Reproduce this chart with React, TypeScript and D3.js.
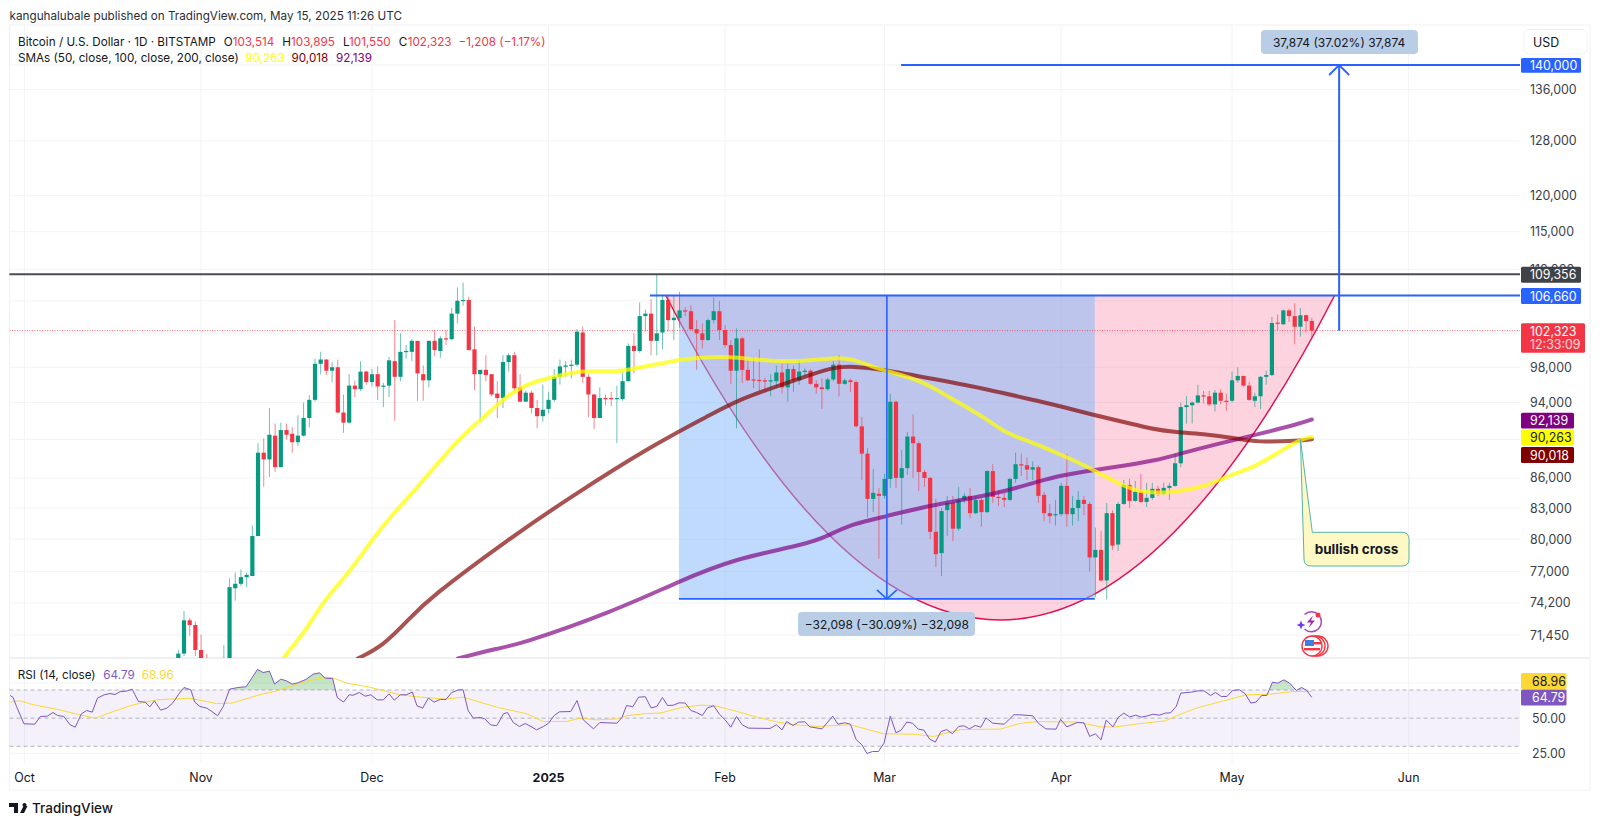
import React from "react";
import * as d3 from "d3";

const FONT = "Inter, 'Noto Sans', sans-serif";

// Daily candles, Oct 28 2024 (day 27 after Oct 1) to May 15 2025 (day 226), USD thousands
const firstDay = 27;
const opens = [
  67.9,69.9,72.7,72.3,70.2,69.5,69.3,68.7,67.8,69.4,75.5,75.9,76.5,76.6,80.3,88.6,87.9,90.4,87.1,91.0,
  90.6,89.7,90.4,92.3,94.3,98.4,98.9,97.6,98.0,92.9,91.8,95.9,95.5,97.5,96.3,97.2,95.8,95.9,98.7,96.9,
  99.8,99.8,101.1,97.2,96.5,101.1,99.9,101.4,101.3,104.4,106.0,106.1,100.1,97.2,97.7,97.2,95.0,94.5,98.6,99.4,
  95.7,94.1,95.1,93.4,92.5,93.3,94.3,96.9,98.05,98.2,98.3,102.1,96.9,94.9,92.3,94.5,94.5,94.4,94.4,96.4,
  100.5,99.9,104.1,104.4,101.1,102.1,106.1,103.6,103.85,104.8,104.7,102.5,102.0,101.2,103.6,104.7,102.4,100.6,97.6,101.4,
  97.7,96.6,96.55,96.5,96.4,96.4,97.4,95.7,97.8,96.5,97.5,97.6,96.1,95.7,95.5,96.6,98.3,96.1,96.5,96.3,
  91.4,88.5,83.9,84.4,84.2,85.9,94.1,86.0,87.0,90.3,89.6,86.6,86.0,80.7,78.7,82.8,83.5,81.0,83.8,84.2,
  82.5,83.8,82.6,86.7,84.1,84.0,83.8,85.9,87.4,87.3,86.85,87.1,84.3,82.5,82.3,82.4,85.2,82.4,83.0,83.8,
  83.4,78.3,79.0,76.2,82.5,79.5,83.4,85.3,83.7,84.6,83.6,84.0,84.9,84.4,85.0,85.2,87.5,93.5,93.7,94.0,
  94.8,94.7,93.8,95.1,94.2,94.2,96.5,97.0,95.9,94.2,94.7,96.9,97.1,103.3,103.1,104.8,104.1,102.8,104.2,103.51,
];
const highs = [
  70.2,73.5,72.9,72.6,71.5,69.9,69.4,69.5,70.6,76.4,76.9,77.2,76.9,81.3,89.6,90.1,93.4,91.7,91.8,91.7,
  91.3,92.6,94.0,94.8,99.0,99.8,98.9,98.6,98.9,94.9,97.2,96.5,98.7,97.6,97.8,98.1,96.2,99.2,103.6,102.0,
  100.6,101.3,101.1,98.2,101.1,102.4,101.7,102.4,105.1,107.7,108.3,106.5,102.8,97.7,99.4,97.2,96.4,99.4,99.6,99.8,
  97.2,95.3,95.3,94.3,96.0,95.2,97.8,98.9,98.7,98.9,102.5,102.8,97.2,94.9,95.7,94.9,95.2,95.9,97.4,100.8,
  102.0,105.8,104.9,106.2,109.3,106.7,106.7,106.6,107.1,105.2,105.4,103.6,103.2,103.8,106.4,106.0,103.0,101.2,102.6,101.6,
  98.9,99.2,100.1,96.8,97.2,98.2,98.4,98.4,98.2,98.9,97.9,97.8,96.5,96.7,96.8,98.7,99.4,96.7,96.7,96.5,
  92.4,89.1,86.9,85.0,86.4,95.0,94.2,88.9,90.8,92.7,89.8,86.8,86.1,83.9,83.0,84.2,84.2,85.1,84.5,85.0,
  84.2,84.0,86.8,87.4,84.8,84.5,86.0,88.6,88.5,88.1,87.7,87.3,84.6,83.4,83.8,85.5,88.5,84.2,84.7,84.2,
  83.6,81.1,80.8,83.5,82.8,83.6,85.8,85.9,85.7,86.4,85.5,85.5,85.2,85.5,85.5,88.5,94.0,94.7,94.1,96.0,
  95.3,95.3,95.4,95.5,95.0,97.5,98.0,97.0,96.3,95.1,97.0,97.6,104.0,104.3,104.9,105.0,105.7,105.1,104.3,103.9,
];
const lows = [
  67.6,69.7,71.4,69.7,68.8,68.9,67.5,66.8,67.5,69.4,74.4,75.7,75.6,76.6,80.3,85.1,86.1,86.6,87.1,90.0,
  88.6,89.3,90.3,91.3,94.1,97.2,97.1,96.3,92.8,90.7,91.7,94.6,95.3,96.0,95.8,94.3,93.5,94.6,92.0,96.4,
  99.0,98.7,94.2,94.2,95.7,99.3,99.1,100.6,101.2,103.2,105.4,100.0,95.4,92.0,96.4,94.7,92.3,93.4,97.5,95.3,
  94.1,94.1,92.8,91.2,91.9,92.8,94.1,96.0,96.9,96.7,98.1,96.2,92.4,91.1,92.3,93.7,93.6,89.6,94.2,96.4,
  97.3,99.7,102.2,99.4,99.4,100.1,102.2,101.2,102.7,104.1,102.4,97.7,100.2,101.1,103.2,101.2,100.3,96.1,91.2,96.2,
  96.4,95.6,95.3,95.3,94.7,95.6,95.0,94.1,95.2,96.0,97.0,96.0,95.0,93.3,95.3,96.4,94.7,96.0,95.2,91.3,
  85.8,82.1,82.6,78.2,83.9,85.0,85.0,81.4,86.3,86.0,84.7,85.1,80.0,77.4,76.6,80.3,79.8,80.8,83.5,82.0,
  82.4,81.2,82.5,83.5,83.2,83.1,83.7,85.5,86.2,85.8,85.8,83.5,81.7,81.5,81.3,82.2,81.2,81.3,81.7,82.3,
  77.0,74.7,76.1,74.5,79.0,78.9,83.3,83.0,83.6,83.5,83.1,83.8,84.2,84.3,83.8,85.1,87.1,91.7,91.7,93.9,
  93.9,93.6,93.0,93.8,93.1,94.0,96.2,95.8,94.2,93.5,93.3,96.0,97.0,102.4,103.0,103.4,100.7,101.6,102.1,101.55,
];
const closes = [
  69.9,72.7,72.3,70.2,69.5,69.3,68.7,67.8,69.4,75.6,75.9,76.5,76.7,80.3,88.6,87.9,90.5,87.1,91.0,90.5,
  89.7,90.4,92.3,94.3,98.4,98.9,97.6,98.0,92.9,91.8,95.9,95.5,97.5,96.3,97.2,95.8,95.9,98.8,96.9,99.8,
  99.9,101.1,97.3,96.5,101.1,100.0,101.4,101.3,104.4,106.0,106.1,100.0,97.2,97.7,97.1,94.9,94.5,98.6,99.4,95.6,
  94.1,95.1,93.4,92.5,93.2,94.3,96.9,98.1,98.2,98.3,102.2,96.9,94.9,92.3,94.5,94.4,94.4,94.5,96.4,100.5,
  99.9,104.1,104.4,101.1,102.0,106.1,103.6,103.9,104.8,104.7,102.5,102.0,101.2,103.6,104.7,102.4,100.6,97.6,101.4,97.7,
  96.5,96.5,96.4,96.4,96.5,97.4,95.7,97.8,96.5,97.5,97.6,96.1,95.7,95.5,96.6,98.3,96.1,96.5,96.3,91.4,
  88.5,83.9,84.5,84.2,85.9,94.1,86.0,87.0,90.3,89.6,86.6,86.0,80.7,78.6,82.7,83.5,81.0,83.8,84.2,82.5,
  83.8,82.6,86.7,84.1,84.0,83.8,85.9,87.4,87.35,86.85,87.1,84.2,82.5,82.2,82.4,85.2,82.4,83.0,83.8,83.4,
  78.3,79.0,76.2,82.5,79.4,83.4,85.3,83.7,84.6,83.6,84.0,84.9,84.4,85.0,85.2,87.5,93.5,93.7,94.0,94.8,
  94.7,93.8,95.1,94.2,94.15,96.5,97.0,95.9,94.3,94.7,96.9,97.1,103.25,103.2,104.8,104.1,102.8,104.2,103.5,102.32,
];

// Moving averages read at sampled days
const sma50Days = [40,46.4,48.9,51.3,53.6,56.6,59.4,62.4,65.3,67.7,76.5,80,83.5,87.6,92.3,98,104,108,113.3,115,122,125.6,131,136.7,142,145.5,150.2,157.2,162,169,172.4,176.5,182.3,186.5,188.8,192.3,195.8,202,207.6,210.4,216.3,219.8,223.9,226];
const sma50Vals = [66,70.2,71.5,73.4,75.0,76.7,78.7,80.9,82.8,84.2,90.3,92.0,94.1,96.0,96.8,97.7,97.4,98.0,98.6,98.9,99.3,99.1,98.7,98.7,99.1,99.0,97.7,96.6,94.7,92.2,90.6,89.8,88.3,87.2,86.4,85.4,84.5,84.5,85.2,86.0,87.2,88.5,90.0,90.26];
const sma100Days = [58.5,62.9,67.7,71,85.2,95.9,110.3,120.6,125,132,137.9,142,145.5,150.2,160,169,177.7,181.8,187.9,193.5,198.1,201.6,206.9,212.8,216.3,223.9,226];
const sma100Vals = [69.5,70.5,72.9,74.6,80.1,84.1,89.4,92.7,94.2,95.8,97.1,98.0,98.1,97.8,96.6,95.5,94.2,93.6,92.6,91.8,91.1,90.8,90.6,90.1,89.7,89.85,90.02];
const sma200Days = [76.1,83.5,86.5,103.1,114.8,124.7,137.2,141.4,144.9,151.4,158.4,164.8,171.8,177.7,182.3,187.9,193.5,198.8,202.9,209.3,216.3,223.9,226];
const sma200Vals = [69.5,70.4,70.6,73.4,76.1,78.2,79.5,80.4,81.4,82.2,83.2,83.8,84.6,85.6,86.3,86.8,87.3,87.8,88.5,89.5,90.5,91.7,92.14];

// RSI (14) read at its vertices
const rsiDays = [-2.5,-2,-1.4,-.1,1.8,2.8,4,5,5.8,6.9,8,8.9,10,10.9,11.9,12.8,14,15,15.9,16.8,17.9,18.9,20,21.2,22,22.8,23.9,25,26,27,28,29.2,29.9,30.8,32,32.9,33.9,34.9,36,37.5,38.9,39.9,40.9,41.9,43,43.9,45,46,47,48,49.4,50.7,51.8,52.8,54.1,54.9,56,57,57.7,58.8,59.8,60.8,61.9,63,64,64.9,66,67,68.1,68.9,69.9,70.9,71.9,73,74,75,76.2,77,77.9,78.8,80,80.8,81.8,82.9,84.1,84.8,85.8,86.9,87.9,89.1,89.9,91.1,92,93,93.9,95.9,97,98.1,99.9,101,104,104.9,105.7,106.8,107.8,109,110,111,112,112.9,113.9,114.9,116,117,118,119,119.9,121,122,123,124,125,126,127.1,130.9,132,133,133.8,134.9,135.9,137,137.9,140,141.9,142.8,144,145,146,147,147.9,148.9,149.9,150.9,152,153,153.9,154.9,155.9,156.9,157.9,158.9,159.9,160.9,161.9,162.9,164,164.9,165.9,166.9,167.9,168.8,170,172,173.7,174.7,177,178,179.3,181.1,181.9,183,184.8,186,187,188,189,189.9,191.1,192,193,194,195.1,196.1,197.2,198.1,199.2,200.3,201.2,202.2,203,204.9,206,207.1,208.2,209.1,210.1,211.1,212.1,213.3,214.3,215.3,216.2,217.2,218.1,219.1,220,221.1,222.1,223.3,224.2,225.1,226];
const rsiVals = [66.1,64.7,58.3,46,45.7,51.2,51.4,54,51.9,51.2,45.3,43.6,53.1,55.4,54.3,64.2,66.6,67.5,66.8,68.9,69.2,70.6,61.8,61.4,58,62.3,55.7,57.1,60.7,66.6,71.8,70.1,61.4,58.3,57.1,54.7,51.7,58.3,70.6,71.8,72.3,78.4,84.6,82.4,83.4,74.2,77.7,76.5,74.2,75.1,77.5,81.3,82.2,78.4,78.2,64.7,61.4,66.6,66.3,68.2,65.6,66.6,63,63,67.3,62.8,66.6,66.6,68.5,58.8,57.1,64.2,61.4,63.3,63.3,68.2,70.1,70.1,55.2,50,50.5,49.5,45.3,44.6,53.1,54,46.9,44.1,46.2,43.6,41.7,44.1,46.4,51.9,54.5,54.7,62.5,48.8,42.4,46.9,46.4,50.5,59,58.1,64.9,65.2,57.3,58.3,64.7,59,59.2,60.9,60.7,55.4,54,51.9,57.3,58.8,52.8,48.8,43.6,51.2,45.3,42.9,42.7,45.3,41.7,47.6,44.8,47.2,47.4,43.8,42.4,51.4,45.7,46.7,45.7,34.8,31.1,24.9,26.3,26.3,32.2,51.4,39.6,41.5,47.2,46.4,42.2,41.5,35.1,33,40.5,41.9,38.9,44.1,44.6,42.4,44.8,43.6,50.2,46.4,45.7,52.4,52.4,51.7,46.4,42.4,42.2,49.1,43.8,46.9,46.7,37,38.9,34.6,48.6,43.8,50.5,53.6,50.9,52.1,50.7,51.7,52.8,52.1,53.6,53.8,58.3,67.8,68.5,69.4,69.4,66.1,68.2,65.4,65.4,69.7,70.1,67.3,60.7,61.4,66.1,66.1,75.6,74.9,77.2,74.9,69.7,71.8,69.7,64.79];
const rsiMaDays = [-2.5,-.8,1.6,6.2,9.2,12.4,15.6,19.1,23.2,29,33.7,36.4,41.3,44.3,48.4,51.9,53.9,56.6,60.6,65.9,68.8,74,77,82.9,88.2,91.1,95.2,97.5,100.5,104,105.7,109.2,111.6,115.7,118.6,121,124.5,128.6,132,135,139.1,145,150.8,156,159.6,164.3,171.3,174.7,178,184.8,188.9,191.6,195,200.3,202.7,205.7,210.5,214.5,218.6,222.6,226];
const rsiMaVals = [61.4,62.3,59.5,55.9,52.8,50,54.7,59.5,63,64.2,60.4,60.7,66.6,69.4,74.9,78.4,78.9,74.9,72,66.6,65.2,63.5,64.9,57.8,53.1,47.6,47.6,50,48.8,49.5,51.7,53.3,53.6,57.8,59.2,59,55.4,50.7,47.4,45.3,44.1,45.3,38.9,38.6,37,41.9,42.2,46.2,47.6,47.2,43.8,43.8,45.7,48.1,52.4,57.1,62.3,66.6,67,68.9,68.96];

// Axes
const monthDays = [0,31,61,92,123,151,182,212,243];
const monthLabels = ["Oct","Nov","Dec","2025","Feb","Mar","Apr","May","Jun"];
const priceGrid = [140,136,128,120,115,110,106,102,98,94,90,86,83,80,77,74.2,71.45];
const priceLabels = [136,128,120,115,110,98,94,86,83,80,77,74.2,71.45];
const rsiGrid = [75,25];
const rsiLabels = [50,25];

// Drawings, prices in USD thousands
const resistance = 109.356;
const rimPrice = 106.66;
const lastClose = 102.323;
const targetPrice = 140;
const cupFloor = 74.562;
const arcStartDay = 112.6, arcControlDay = 171.3, arcEndDay = 230, arcControlPrice = 49.6;
const rectStartDay = 114.9, rectEndDay = 187.9;
const dropDay = 151.4, riseDay = 230.8, rimLineStart = 109.8, targetLineStart = 153.9;
const crossDay = 224, crossPrice = 90;

const L = 9.5, R = 1520, PANE_TOP = 25, PANE_BOTTOM = 658, RSI_BOTTOM = 763, FRAME_R = 1590, FRAME_B = 790;
const x = d3.scaleLinear().domain([0, 226]).range([24.5, 1311.8]);
const y = d3.scaleLog().domain([140, 71.45]).range([65, 635]);
const ry = d3.scaleLinear().domain([70, 30]).range([690, 746.3]);

const GREEN = "#089981", RED = "#f23645", BLUE = "#2962ff", GRID = "#f1f3f6", TXT = "#131722";

const smaLine = (days: number[], vals: number[]) =>
  d3.line<number>().x((d) => x(d)).y((_, i) => y(vals[i])).curve(d3.curveBasis)(days) as string;
const rsiLine = (days: number[], vals: number[]) =>
  d3.line<number>().x((d) => x(d)).y((_, i) => ry(vals[i]))(days) as string;

function Tag({ x0, y0, w, h, fill, color, text, text2 }: any) {
  return (
    <g>
      <rect x={x0} y={y0} width={w} height={h} rx={1.5} fill={fill} />
      <text x={1530} y={text2 ? y0 + 8.5 : y0 + h / 2} dominantBaseline="central" fontSize={12.4} fill={color}>{text}</text>
      {text2 && <text x={1530} y={y0 + 21} dominantBaseline="central" fontSize={12.4} fill={color} opacity={0.8}>{text2}</text>}
    </g>
  );
}

export default function App() {
  const p = d3.path();
  p.moveTo(x(arcStartDay), y(rimPrice));
  p.quadraticCurveTo(x(arcControlDay), y(arcControlPrice), x(arcEndDay), y(rimPrice));
  const arcOpen = p.toString();
  const arcClosed = arcOpen + "Z";
  const rimY = y(rimPrice);
  const tipX = x(crossDay), tipY = y(crossPrice);
  const calloutPath = `M${tipX},${tipY}L1312.3,532.3H1402Q1409,532.3 1409,539.3V559Q1409,566 1402,566H1311Q1304,566 1304,559Z`;
  const rsiArea = d3.area<number>().x((d) => x(d)).y0(ry(70)).y1((_, i) => ry(rsiVals[i]))(rsiDays) as string;

  return (
    <svg width={1600} height={824} viewBox="0 0 1600 824" fontFamily={FONT}
      style={{ position: "absolute", left: 0, top: 0, display: "block", background: "#fff" }}>
      <defs>
        <clipPath id="pane"><rect x={L} y={PANE_TOP} width={R - L} height={PANE_BOTTOM - PANE_TOP} /></clipPath>
        <clipPath id="above70"><rect x={L} y={658} width={R - L} height={ry(70) - 658} /></clipPath>
        <linearGradient id="ob" x1="0" y1="0" x2="0" y2="1">
          <stop offset="0" stopColor="#4caf50" stopOpacity={0.38} />
          <stop offset="1" stopColor="#4caf50" stopOpacity={0.04} />
        </linearGradient>
      </defs>

      <text x={9.6} y={15.7} dominantBaseline="central" fontSize={11.7} fill="#2a2e39">
        kanguhalubale published on TradingView.com, May 15, 2025 11:26 UTC
      </text>

      <rect x={L} y={PANE_TOP} width={FRAME_R - L} height={FRAME_B - PANE_TOP} fill="none" stroke="#eff1f4" />

      {/* grid */}
      {monthDays.map((d) => <line key={d} x1={x(d)} x2={x(d)} y1={PANE_TOP} y2={RSI_BOTTOM} stroke={GRID} />)}
      {priceGrid.map((v) => <line key={v} x1={L} x2={R} y1={y(v)} y2={y(v)} stroke={GRID} />)}
      {rsiGrid.map((v) => <line key={v} x1={L} x2={R} y1={ry(v)} y2={ry(v)} stroke={GRID} />)}
      <line x1={L} x2={FRAME_R} y1={658} y2={658} stroke="#eef0f3" strokeWidth={2} />

      <g clipPath="url(#pane)">
        {/* cup arc and measured range */}
        <path d={arcClosed} fill="#f7467d" fillOpacity={0.24} stroke="none" />
        <path d={arcOpen} fill="none" stroke="#e0114f" strokeWidth={1.5} />
        <rect x={x(rectStartDay)} y={rimY} width={x(rectEndDay) - x(rectStartDay)} height={y(cupFloor) - rimY} fill="#84b8f9" fillOpacity={0.52} />

        <line x1={L} x2={R} y1={y(lastClose)} y2={y(lastClose)} stroke={RED} strokeOpacity={0.75} strokeDasharray="1 1.5" />

        {/* candles */}
        {closes.map((c, i) => {
          const d = firstDay + i, o = opens[i], col = c >= o ? GREEN : RED, cx = x(d);
          return (
            <g key={d}>
              <line x1={cx} x2={cx} y1={y(highs[i])} y2={y(lows[i])} stroke={col} strokeOpacity={0.6} strokeWidth={1} />
              <rect x={cx - 2.1} width={4.2} y={y(Math.max(o, c))} height={Math.max(1.2, Math.abs(y(o) - y(c)))} fill={col} />
            </g>
          );
        })}

        {/* moving averages */}
        <path d={smaLine(sma200Days, sma200Vals)} fill="none" stroke="#800080" strokeOpacity={0.68} strokeWidth={4} strokeLinecap="round" />
        <path d={smaLine(sma100Days, sma100Vals)} fill="none" stroke="#800000" strokeOpacity={0.68} strokeWidth={4} strokeLinecap="round" />
        <path d={smaLine(sma50Days, sma50Vals)} fill="none" stroke="#ffff00" strokeOpacity={0.72} strokeWidth={4} strokeLinecap="round" />
      </g>

      {/* horizontal levels */}
      <line x1={L} x2={R} y1={y(resistance)} y2={y(resistance)} stroke="#4a4c52" strokeWidth={2} />
      <line x1={x(rimLineStart)} x2={R} y1={rimY} y2={rimY} stroke={BLUE} strokeWidth={2} />
      <line x1={x(rectStartDay)} x2={x(rectEndDay)} y1={y(cupFloor)} y2={y(cupFloor)} stroke={BLUE} strokeWidth={1.6} />
      <line x1={x(targetLineStart)} x2={R} y1={y(targetPrice)} y2={y(targetPrice)} stroke={BLUE} strokeWidth={2} />

      {/* measured arrows */}
      <line x1={x(dropDay)} x2={x(dropDay)} y1={rimY} y2={y(cupFloor)} stroke={BLUE} strokeWidth={1.6} />
      <path d={`M${x(dropDay) - 10},${y(cupFloor) - 9}L${x(dropDay)},${y(cupFloor)}L${x(dropDay) + 10},${y(cupFloor) - 9}`} fill="none" stroke={BLUE} strokeWidth={1.6} />
      <line x1={x(riseDay)} x2={x(riseDay)} y1={y(lastClose)} y2={y(targetPrice)} stroke={BLUE} strokeWidth={2} />
      <path d={`M${x(riseDay) - 10},${y(targetPrice) + 10}L${x(riseDay)},${y(targetPrice)}L${x(riseDay) + 10},${y(targetPrice) + 10}`} fill="none" stroke={BLUE} strokeWidth={1.8} />

      <rect x={1261} y={30} width={157} height={24} rx={4} fill="#b9cde6" />
      <text x={x(riseDay)} y={42} textAnchor="middle" dominantBaseline="central" fontSize={12} fill={TXT}>37,874 (37.02%) 37,874</text>
      <rect x={798} y={612} width={177} height={24} rx={4} fill="#b9cde6" />
      <text x={x(dropDay)} y={624} textAnchor="middle" dominantBaseline="central" fontSize={12} fill={TXT}>−32,098 (−30.09%) −32,098</text>

      {/* callout */}
      <path d={calloutPath} fill="#fdf8c4" stroke="#55b5a6" strokeWidth={1} />
      <text x={1356.5} y={549} textAnchor="middle" dominantBaseline="central" fontSize={13.5} fontWeight={700} fill={TXT}>bullish cross</text>

      {/* event icons */}
      <g>
        <path d="M1304.5,614.5A10,10 0 1 1 1304.5,629" fill="none" stroke="#ab47bc" strokeWidth={1.5} />
        <path d="M1313,615.5L1307,622.5H1311L1308.5,628L1315,620.5H1311Z" fill="#9c27b0" />
        <path d="M1301,620.5L1302.3,623.7L1305.5,625L1302.3,626.3L1301,629.5L1299.7,626.3L1296.5,625L1299.7,623.7Z" fill="#6a3df0" />
        <circle cx={1318} cy={615} r={2.5} fill="#f23645" />
        <circle cx={1318} cy={646} r={10} fill="#fff" stroke="#f23645" strokeWidth={1.4} />
        <circle cx={1315} cy={646} r={10} fill="#fff" stroke="#f23645" strokeWidth={1.4} />
        <circle cx={1312} cy={646} r={10} fill="#fff" stroke="#f23645" strokeWidth={1.4} />
        <rect x={1305} y={640} width={9} height={6} fill="#3f7de0" />
        <rect x={1314} y={642} width={7} height={2.4} fill="#f23645" />
        <rect x={1304} y={648} width={16} height={2.4} fill="#f23645" />
      </g>

      {/* RSI pane */}
      <rect x={L} y={ry(70)} width={R - L} height={ry(30) - ry(70)} fill="#7e57c2" fillOpacity={0.085} />
      {[70, 50, 30].map((v) => (
        <line key={v} x1={L} x2={R} y1={ry(v)} y2={ry(v)} stroke="#b2b5be" strokeDasharray="4 3" />
      ))}
      <path d={rsiArea} fill="url(#ob)" clipPath="url(#above70)" />
      <path d={rsiLine(rsiMaDays, rsiMaVals)} fill="none" stroke="#fdd835" strokeWidth={1} />
      <path d={rsiLine(rsiDays, rsiVals)} fill="none" stroke="#7e57c2" strokeWidth={1} />

      {/* time axis */}
      {monthDays.map((d, i) => (
        <text key={d} x={x(d)} y={777.7} textAnchor="middle" dominantBaseline="central" fontSize={12.4}
          fontWeight={monthLabels[i] === "2025" ? 700 : 400} fill={TXT}>{monthLabels[i]}</text>
      ))}

      {/* price axis */}
      {priceLabels.map((v) => (
        <text key={v} x={1530} y={y(v)} dominantBaseline="central" fontSize={12.4} fill="#3a3e48">
          {d3.format(",")(Math.round(v * 1000))}
        </text>
      ))}
      {rsiLabels.map((v) => (
        <text key={v} x={1532} y={ry(v)} dominantBaseline="central" fontSize={12.4} fill="#3a3e48">{v.toFixed(2)}</text>
      ))}

      <rect x={1524} y={29.5} width={63} height={24.5} rx={5} fill="#fff" stroke="#f0f2f5" />
      <text x={1533} y={42} dominantBaseline="central" fontSize={12.4} fill={TXT}>USD</text>

      <Tag x0={1521} y0={58} w={60} h={14.7} fill={BLUE} color="#fff" text="140,000" />
      <Tag x0={1521} y0={266.7} w={60} h={16} fill="#3f4246" color="#fff" text="109,356" />
      <Tag x0={1521} y0={288} w={60} h={16} fill={BLUE} color="#fff" text="106,660" />
      <Tag x0={1521} y0={323.3} w={64} h={29.4} fill={RED} color="#fff" text="102,323" text2="12:33:09" />
      <Tag x0={1521} y0={412.7} w={53} h={15.8} fill="#800080" color="#fff" text="92,139" />
      <Tag x0={1521} y0={429.5} w={53} h={15.8} fill="#ffff00" color={TXT} text="90,263" />
      <Tag x0={1521} y0={447} w={53} h={16} fill="#800000" color="#fff" text="90,018" />
      <rect x={1521} y={673} width={45.5} height={16} rx={1.5} fill="#fdd835" />
      <text x={1532} y={681} dominantBaseline="central" fontSize={12.4} fill={TXT}>68.96</text>
      <rect x={1521} y={689.5} width={45.5} height={16} rx={1.5} fill="#7e57c2" />
      <text x={1532} y={697.5} dominantBaseline="central" fontSize={12.4} fill="#fff">64.79</text>

      {/* legends */}
      <g fontSize={11.7} dominantBaseline="central">
        <text x={18} y={41.7} fill={TXT}>Bitcoin / U.S. Dollar · 1D · BITSTAMP</text>
        <text x={223.8} y={41.7} fill={TXT}>O</text><text x={232.7} y={41.7} fill={RED}>103,514</text>
        <text x={282.3} y={41.7} fill={TXT}>H</text><text x={291} y={41.7} fill={RED}>103,895</text>
        <text x={343} y={41.7} fill={TXT}>L</text><text x={349} y={41.7} fill={RED}>101,550</text>
        <text x={398.8} y={41.7} fill={TXT}>C</text><text x={407.7} y={41.7} fill={RED}>102,323</text>
        <text x={458.5} y={41.7} fill={RED}>−1,208 (−1.17%)</text>
        <text x={18} y={58} fill={TXT}>SMAs (50, close, 100, close, 200, close)</text>
        <text x={245.4} y={58} fill="#ffff00">90,263</text>
        <text x={291.5} y={58} fill="#800000">90,018</text>
        <text x={336} y={58} fill="#800080">92,139</text>
        <text x={17.7} y={675} fill={TXT}>RSI (14, close)</text>
        <text x={103.3} y={675} fill="#7e57c2">64.79</text>
        <text x={141.7} y={675} fill="#fdd835">68.96</text>
      </g>

      {/* brand */}
      <path d="M9,803H18V813H14V807H9ZM24.5,803A2,2 0 1 1 24.49,803ZM20,813L23.5,806H27.5L24,813Z" fill="#131722" />
      <text x={32} y={808} dominantBaseline="central" fontSize={13.5} fontWeight={500} fill={TXT}>TradingView</text>
    </svg>
  );
}
